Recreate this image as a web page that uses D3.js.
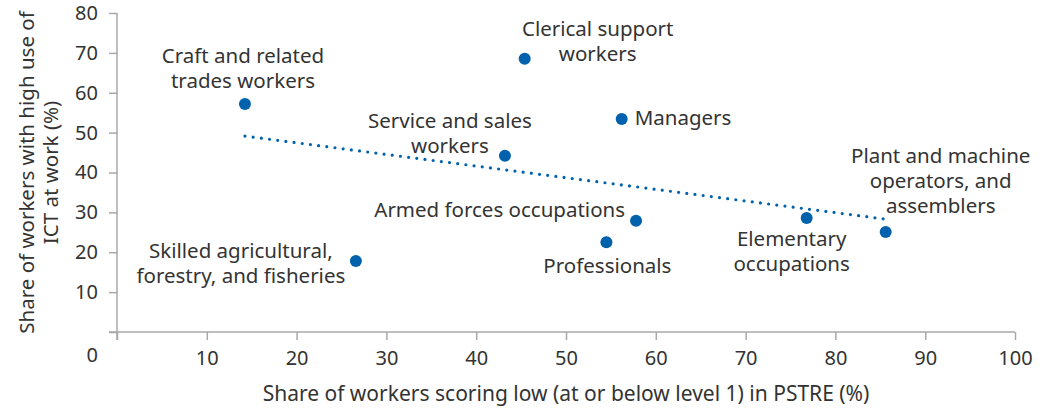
<!DOCTYPE html>
<html>
<head>
<meta charset="utf-8">
<script src="https://cdn.jsdelivr.net/npm/d3@7/dist/d3.min.js"></script>
<style>
  html, body { margin: 0; padding: 0; background: #fff; }
  svg { display: block; }
  text { font-family: "Noto Sans", "Open Sans", sans-serif; fill: #333; }
</style>
</head>
<body>
<svg id="chart" width="1039" height="409"></svg>
<script>
// Occupation groups (ISCO major groups)
const occupations = [
  "Craft and related trades workers",
  "Clerical support workers",
  "Managers",
  "Service and sales workers",
  "Armed forces occupations",
  "Professionals",
  "Elementary occupations",
  "Plant and machine operators, and assemblers",
  "Skilled agricultural, forestry, and fisheries"
];
// Share of workers scoring at or below level 1 in PSTRE (%)
const lowPstre = [14.25, 45.4, 56.2, 43.2, 57.8, 54.5, 76.8, 85.6, 26.6];
// Share of workers with high use of ICT at work (%)
const highIct = [57.2, 68.5, 53.4, 44.2, 27.9, 22.5, 28.6, 25.1, 17.8];

const xTicks = [10, 20, 30, 40, 50, 60, 70, 80, 90, 100];
const yTicks = [10, 20, 30, 40, 50, 60, 70, 80];

// Label text broken into lines
const labelLines = [
  ["Craft and related", "trades workers"],
  ["Clerical support", "workers"],
  ["Managers"],
  ["Service and sales", "workers"],
  ["Armed forces occupations"],
  ["Professionals"],
  ["Elementary", "occupations"],
  ["Plant and machine", "operators, and", "assemblers"],
  ["Skilled agricultural,", "forestry, and fisheries"]
];

// Label placement relative to each marker: anchor, x offset, first-baseline offset
const labelPlacement = [
  { anchor: "middle", dx: -2,   dy: -41 },
  { anchor: "middle", dx: 73,   dy: -23 },
  { anchor: "start",  dx: 13,   dy: 6 },
  { anchor: "middle", dx: -55,  dy: -28 },
  { anchor: "end",    dx: -11,  dy: -4 },
  { anchor: "middle", dx: 1,    dy: 31 },
  { anchor: "middle", dx: -15,  dy: 28 },
  { anchor: "middle", dx: 55,   dy: -69 },
  { anchor: "middle", dx: -115, dy: -3 }
];

const points = occupations.map((name, i) => ({
  name, x: lowPstre[i], y: highIct[i], lines: labelLines[i], place: labelPlacement[i]
}));

const svg = d3.select("#chart");
const plotLeft = 117, plotRight = 1015, plotTop = 13, plotBottom = 332;
const blue = "#0061ad";
const axisColor = "#a8a8a8";
const tickFont = "20px";

const x = d3.scaleLinear().domain([0, 100]).range([plotLeft, plotRight]);
const y = d3.scaleLinear().domain([0, 80]).range([plotBottom, plotTop]);

// Axes
const xAxis = svg.append("g").attr("transform", `translate(0,${plotBottom})`)
  .call(d3.axisBottom(x).tickValues([0, ...xTicks]).tickSize(8).tickPadding(8).tickFormat(d => d === 0 ? "" : d));
const yAxis = svg.append("g").attr("transform", `translate(${plotLeft},0)`)
  .call(d3.axisLeft(y).tickValues([0, ...yTicks]).tickSize(8).tickPadding(11).tickFormat(d => d === 0 ? "" : d));

[xAxis, yAxis].forEach(g => {
  g.select(".domain").remove();
  g.selectAll(".tick line").attr("stroke", axisColor).attr("stroke-width", 1.5);
  g.selectAll(".tick text").style("font-size", tickFont).attr("fill", "#333");
});
xAxis.selectAll(".tick text").attr("dy", "0.85em");

// Axis lines, extended to the outer ends of the zero ticks
svg.append("line").attr("x1", plotLeft - 8).attr("x2", plotRight).attr("y1", plotBottom).attr("y2", plotBottom)
  .attr("stroke", axisColor).attr("stroke-width", 1.5);
svg.append("line").attr("x1", plotLeft).attr("x2", plotLeft).attr("y1", plotTop).attr("y2", plotBottom + 8)
  .attr("stroke", axisColor).attr("stroke-width", 1.5);

// Shared origin label
svg.append("text").attr("x", plotLeft - 19).attr("y", plotBottom).attr("dy", 30)
  .attr("text-anchor", "end").style("font-size", tickFont).text("0");

// Axis titles
svg.append("text")
  .attr("x", (plotLeft + plotRight) / 2).attr("y", 401)
  .attr("text-anchor", "middle").style("font-size", "21px")
  .text("Share of workers scoring low (at or below level 1) in PSTRE (%)");

const yTitle = svg.append("text")
  .attr("transform", `translate(34,${(plotTop + plotBottom) / 2}) rotate(-90)`)
  .attr("text-anchor", "middle").style("font-size", "20.5px");
yTitle.append("tspan").attr("x", 0).attr("y", 0).text("Share of workers with high use of");
yTitle.append("tspan").attr("x", 0).attr("y", 24).text("ICT at work (%)");

// Linear trend (least squares)
const mx = d3.mean(points, d => d.x), my = d3.mean(points, d => d.y);
const slope = d3.sum(points, d => (d.x - mx) * (d.y - my)) / d3.sum(points, d => (d.x - mx) ** 2);
const intercept = my - slope * mx;
const [xMin, xMax] = d3.extent(points, d => d.x);
svg.append("path")
  .datum([xMin, xMax])
  .attr("d", d3.line().x(d => x(d)).y(d => y(intercept + slope * d)))
  .attr("fill", "none").attr("stroke", blue).attr("stroke-width", 3.2)
  .attr("stroke-linecap", "round").attr("stroke-dasharray", "0 8.25");

// Markers
svg.append("g").selectAll("circle").data(points).join("circle")
  .attr("cx", d => x(d.x)).attr("cy", d => y(d.y)).attr("r", 6).attr("fill", blue);

// Data labels
const labels = svg.append("g").selectAll("text").data(points).join("text")
  .attr("text-anchor", d => d.place.anchor)
  .style("font-size", "20.5px");
labels.each(function (d) {
  const t = d3.select(this);
  d.lines.forEach((line, k) => {
    t.append("tspan")
      .attr("x", x(d.x) + d.place.dx)
      .attr("y", y(d.y) + d.place.dy + k * 25)
      .text(line);
  });
});
</script>
</body>
</html>
